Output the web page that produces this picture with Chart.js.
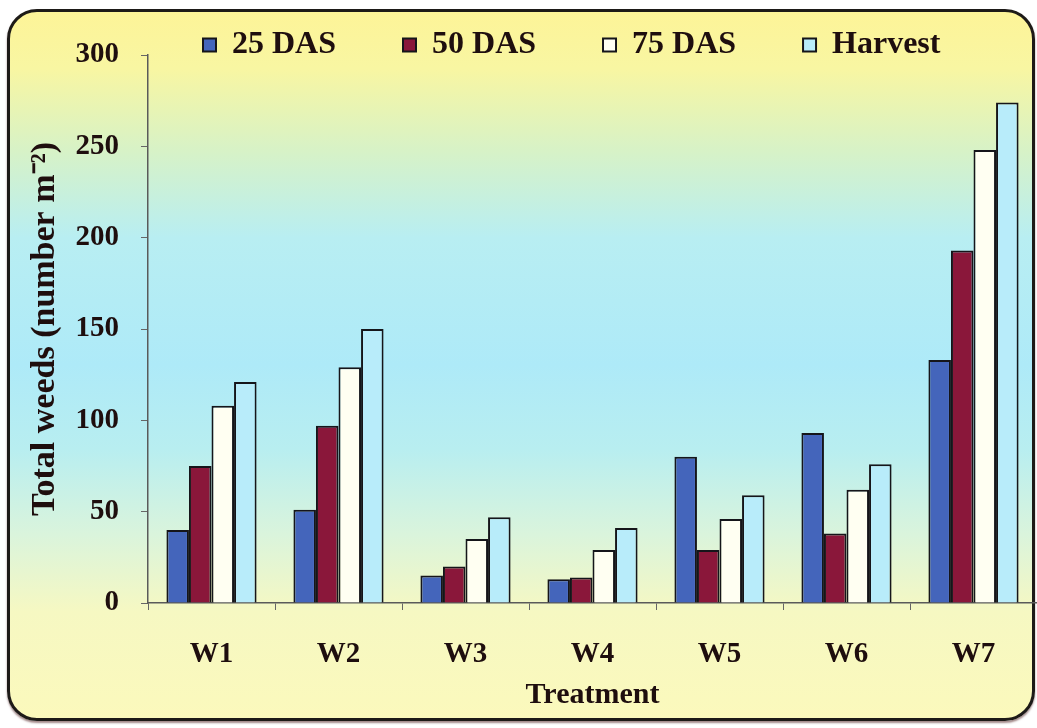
<!DOCTYPE html>
<html><head><meta charset="utf-8">
<script src="https://cdn.jsdelivr.net/npm/chart.js@4.4.1/dist/chart.umd.min.js"></script>
<style>
html,body{margin:0;padding:0;background:#ffffff;width:1037px;height:728px;overflow:hidden}
#frame{position:absolute;left:7px;top:9px;width:1022px;height:706px;border:3px solid #1d1a17;border-radius:30px;
background:linear-gradient(to bottom,#fdf498 0%,#f8f6a2 8%,#d6f2c8 20%,#b8eef2 32%,#aeeaf8 50%,#b8eef0 62%,#daf4dc 74%,#f6f8c2 85%,#fbf9bc 100%);
box-shadow:0 2px 2px rgba(70,20,20,0.5)}
#wrap{position:absolute;left:0;top:0;width:1037px;height:728px}
</style></head>
<body>
<div id="frame"></div>
<div id="wrap"><canvas id="c" width="1037" height="728"></canvas></div>
<script>
const categories = ['W1', 'W2', 'W3', 'W4', 'W5', 'W6', 'W7'];
const seriesNames = ['25 DAS', '50 DAS', '75 DAS', 'Harvest'];
const das25 = [40, 51, 15, 13, 80, 93, 133];
const das50 = [75, 97, 20, 14, 29, 38, 193];
const das75 = [108, 129, 35, 29, 46, 62, 248];
const harvest = [121, 150, 47, 41, 59, 76, 274];
const yTicks = [0, 50, 100, 150, 200, 250, 300];

const FONT = "'Liberation Serif', 'Times New Roman', serif";
const TEXT = '#1e0e0e';
const EDGE = '#15151a';

const legendShift = {
  id: 'legendShift',
  afterLayout(chart) {
    const l = chart.legend;
    if (!l || !l.lineWidths) return;
    const pad = l.options.labels.padding;
    const cur = (l.left + pad + l.right - l.lineWidths[0]) / 2;
    const dx = 203 - cur;
    l.left += dx;
    l.right += dx;
  }
};

const ds = (label, data, color) => ({
  label, data,
  backgroundColor: color,
  borderColor: EDGE,
  borderWidth: 2,
  categoryPercentage: 0.71,
  barPercentage: 1.0
});

new Chart(document.getElementById('c'), {
  type: 'bar',
  data: {
    labels: categories,
    datasets: [
      ds(seriesNames[0], das25, '#4465bb'),
      ds(seriesNames[1], das50, '#8a173a'),
      ds(seriesNames[2], das75, '#fffff2'),
      ds(seriesNames[3], harvest, '#b8ecfa')
    ]
  },
  options: {
    responsive: false,
    animation: false,
    devicePixelRatio: 1,
    layout: { padding: { top: -38, left: 0, right: -3, bottom: 0 } },
    plugins: {
      legend: {
        position: 'top',
        maxHeight: 93,
        labels: {
          boxWidth: 13, boxHeight: 13, padding: 67, color: TEXT,
          font: { family: FONT, size: 32, weight: 'bold' }
        }
      },
      tooltip: { enabled: false }
    },
    scales: {
      x: {
        grid: { display: true, drawOnChartArea: false, offset: true, tickLength: 7, color: '#666', lineWidth: 1 },
        border: { display: true, color: '#5a5a5a', width: 1.5 },
        ticks: { padding: 27, color: TEXT, font: { family: FONT, size: 29, weight: 'bold' } },
        title: { display: true, text: 'Treatment', color: TEXT, font: { family: FONT, size: 30, weight: 'bold' }, padding: { top: 0, bottom: 15 } },
        afterFit: s => { s.height = 125; }
      },
      y: {
        min: 0, max: 300,
        afterBuildTicks: s => { s.ticks = yTicks.map(v => ({ value: v })); },
        grid: { display: true, drawOnChartArea: false, tickLength: 7, color: '#666', lineWidth: 1 },
        border: { display: true, color: '#5a5a5a', width: 1.5 },
        ticks: { padding: 22, color: TEXT, font: { family: FONT, size: 29, weight: 'bold' } },
        title: { display: true, text: 'Total weeds (number m\u207B\u00B2)', color: TEXT, font: { family: FONT, size: 34, weight: 'bold' }, padding: { top: 25, bottom: 0 } },
        afterFit: s => { s.width = 148; }
      }
    }
  },
  plugins: [legendShift]
});
</script>
</body></html>
